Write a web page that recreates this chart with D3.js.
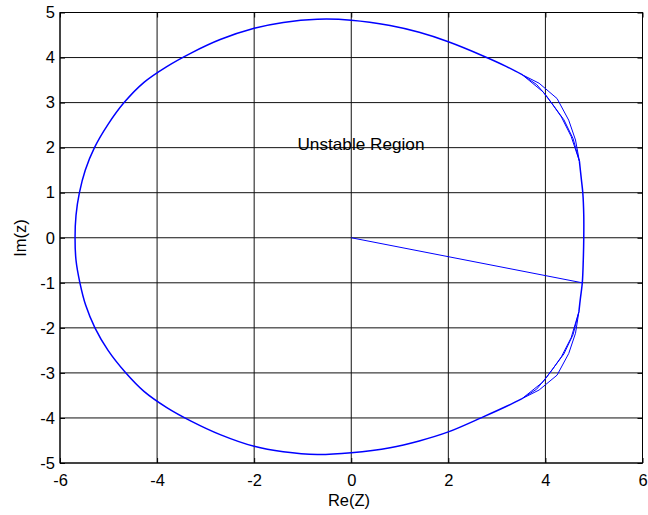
<!DOCTYPE html>
<html>
<head>
<meta charset="utf-8">
<script src="https://cdn.jsdelivr.net/npm/d3@7"></script>
<style>
html,body{margin:0;padding:0;background:#fff;}
text{font-family:"Liberation Sans",Arial,sans-serif;fill:#000;}
</style>
</head>
<body>
<svg id="chart" width="648" height="515"></svg>
<script>
// ---- data ----
const xTicks = [-6, -4, -2, 0, 2, 4, 6];
const yTicks = [-5, -4, -3, -2, -1, 0, 1, 2, 3, 4, 5];
const xLabel = "Re(Z)";
const yLabel = "Im(z)";
const annotation = "Unstable Region";
const annotationPos = [0.2, 2.0];

// boundary locus pieces [Re, Im]
const radialSegment = [[0, 0], [4.76, -1.00]];
const smoothLocus = [
  [3.52,-3.57],[3.20,-3.74],[2.73,-3.97],[2.00,-4.31],[1.40,-4.51],[0.80,-4.66],
  [0.00,-4.77],[-0.70,-4.81],[-1.40,-4.75],[-2.00,-4.63],[-2.70,-4.37],[-3.30,-4.07],
  [-3.80,-3.77],[-4.27,-3.41],[-4.66,-2.98],[-5.01,-2.50],[-5.28,-2.00],[-5.47,-1.50],
  [-5.59,-1.00],[-5.67,-0.50],[-5.69,0.00],[-5.67,0.50],[-5.60,1.00],[-5.48,1.50],
  [-5.29,2.00],[-5.02,2.50],[-4.68,3.00],[-4.27,3.45],[-3.80,3.80],[-3.30,4.10],
  [-2.70,4.40],[-2.00,4.65],[-1.40,4.78],[-0.70,4.85],[0.00,4.83],[0.80,4.71],
  [1.40,4.56],[2.00,4.35],[2.73,4.03],[3.20,3.80],[3.52,3.62]
];
const rightArc = [[4.70,1.70],[4.74,1.30],[4.77,1.00],[4.79,0.50],[4.79,0.00],[4.78,-0.50],[4.76,-1.00],[4.72,-1.35],[4.69,-1.64]];
const upperBranchA = [[3.52,3.62],[3.87,3.43],[4.24,3.09],[4.48,2.61],[4.62,2.17],[4.70,1.70]];
const upperBranchB = [[3.52,3.62],[3.82,3.40],[4.02,3.15],[4.38,2.62],[4.57,2.20],[4.70,1.70]];
const upperBranchC = [[3.52,3.62],[3.95,3.24],[4.14,2.97],[4.33,2.68],[4.53,2.25],[4.70,1.70]];
const lowerBranchA = [[3.52,-3.57],[3.87,-3.38],[4.24,-3.05],[4.48,-2.57],[4.62,-2.12],[4.69,-1.64]];
const lowerBranchB = [[3.52,-3.57],[3.82,-3.36],[4.02,-3.10],[4.38,-2.58],[4.57,-2.15],[4.69,-1.64]];
const lowerBranchC = [[3.52,-3.57],[3.95,-3.20],[4.14,-2.93],[4.33,-2.64],[4.53,-2.22],[4.69,-1.64]];

// ---- layout ----
const L = 60, R = 642.5, T = 12.5, B = 463;
const FONT = '"Liberation Sans",Arial,sans-serif';
const svg = d3.select("#chart");
const x = d3.scaleLinear().domain([-6, 6]).range([L, R]);
const y = d3.scaleLinear().domain([-5, 5]).range([B, T]);
const fmt = d => String(d);

// grid
const grid = svg.append("g");
grid.selectAll("line.vx").data(xTicks).join("line")
  .attr("x1", d => x(d)).attr("x2", d => x(d)).attr("y1", T).attr("y2", B)
  .attr("stroke", "#111").attr("stroke-width", 1);
grid.selectAll("line.hy").data(yTicks).join("line")
  .attr("y1", d => y(d)).attr("y2", d => y(d)).attr("x1", L).attr("x2", R)
  .attr("stroke", "#111").attr("stroke-width", 1);

// axes with inward ticks
const xAxis = svg.append("g").attr("transform", `translate(0,${B})`)
  .call(d3.axisBottom(x).tickValues(xTicks).tickSize(-5).tickFormat(fmt));
const yAxis = svg.append("g").attr("transform", `translate(${L},0)`)
  .call(d3.axisLeft(y).tickValues(yTicks).tickSize(-5).tickFormat(fmt));
[xAxis, yAxis].forEach(a => {
  a.select(".domain").remove();
  a.selectAll(".tick line").attr("stroke", "#000");
  a.selectAll(".tick text").style("font-family", FONT)
    .style("font-size", "16.5px").attr("fill", "#000");
});
xAxis.selectAll(".tick text").attr("dy", "0.71em").attr("y", 11);
yAxis.selectAll(".tick text").attr("x", -5);
// mirrored ticks at top/right
svg.append("g").attr("transform", `translate(0,${T})`)
  .call(d3.axisTop(x).tickValues(xTicks).tickSize(-5).tickFormat(""))
  .call(g => g.select(".domain").remove());
svg.append("g").attr("transform", `translate(${R},0)`)
  .call(d3.axisRight(y).tickValues(yTicks).tickSize(-5).tickFormat(""))
  .call(g => g.select(".domain").remove());

// box
svg.append("rect").attr("x", L).attr("y", T).attr("width", R - L).attr("height", B - T)
  .attr("fill", "none").attr("stroke", "#000").attr("stroke-width", 1);

// curves
const straight = d3.line().x(d => x(d[0])).y(d => y(d[1]));
const smooth = d3.line().x(d => x(d[0])).y(d => y(d[1])).curve(d3.curveCatmullRom.alpha(0.5));
const curves = svg.append("g").attr("fill", "none").attr("stroke", "#0000ff");
curves.append("path").datum(radialSegment).attr("d", straight).attr("stroke-width", 1);
[smoothLocus, rightArc].forEach(seg => {
  curves.append("path").datum(seg).attr("d", smooth)
    .attr("stroke-width", 1.5).attr("stroke-linejoin", "round");
});
[upperBranchA, upperBranchB, upperBranchC, lowerBranchA, lowerBranchB, lowerBranchC].forEach(br => {
  curves.append("path").datum(br).attr("d", straight).attr("stroke-width", 1);
});

// annotation
svg.append("text").attr("x", x(annotationPos[0])).attr("y", y(annotationPos[1]) + 2)
  .attr("text-anchor", "middle").style("font-size", "16.5px")
  .attr("textLength", 127).attr("lengthAdjust", "spacingAndGlyphs")
  .text(annotation);

// axis labels
svg.append("text").attr("x", 349).attr("y", 505.5).attr("text-anchor", "middle")
  .style("font-size", "16.5px").text(xLabel);
svg.append("text").attr("transform", "translate(26,238) rotate(-90)").attr("text-anchor", "middle")
  .style("font-size", "16.5px").text(yLabel);
</script>
</body>
</html>
